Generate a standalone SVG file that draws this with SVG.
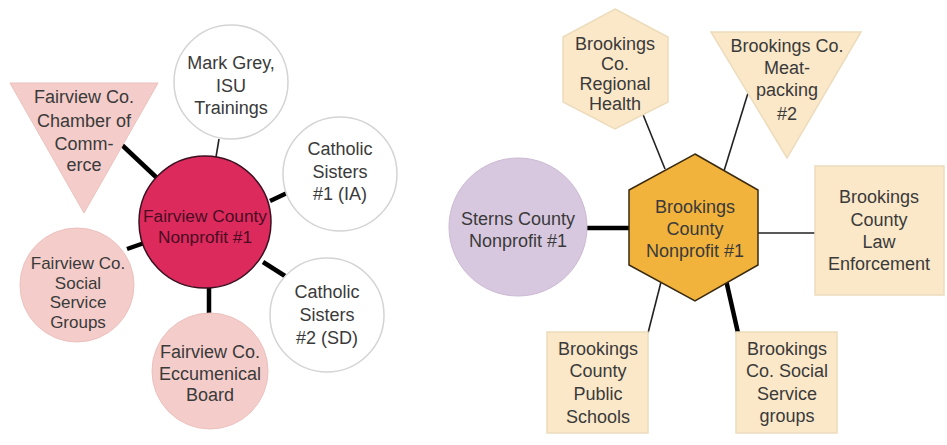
<svg xmlns="http://www.w3.org/2000/svg" width="947" height="445" viewBox="0 0 947 445">
<style>
text{font-family:"Liberation Sans",Arial,sans-serif;font-size:18px;fill:#3a3a3a;text-anchor:middle}
.thick{stroke:#000;stroke-width:4.5;fill:none}
.thin{stroke:#222;stroke-width:1.6;fill:none}
.white{fill:#fff;stroke:#d4d4d4;stroke-width:1.5}
.pink{fill:#f4cdca;stroke:#ecc0bd;stroke-width:1}
.cream{fill:#fbe8c9;stroke:#eddcbc;stroke-width:1.5}
</style>
<rect width="947" height="445" fill="#fff"/>
<g id="connectors">
<line class="thick" x1="122" y1="145" x2="157" y2="178"/>
<line class="thin" x1="219" y1="139" x2="216" y2="157"/>
<line class="thick" x1="270" y1="201" x2="287" y2="193"/>
<line class="thick" x1="263" y1="262" x2="285" y2="276"/>
<line class="thick" x1="209" y1="288" x2="209" y2="314"/>
<line class="thick" x1="127" y1="249" x2="147" y2="242"/>
<line class="thick" x1="587" y1="228" x2="630" y2="228"/>
<line class="thin" x1="642" y1="112" x2="665" y2="169"/>
<line class="thin" x1="748" y1="93" x2="724" y2="171"/>
<line class="thin" x1="758" y1="233" x2="816" y2="233"/>
<line class="thin" x1="661" y1="282" x2="648" y2="333"/>
<line class="thick" x1="726" y1="280" x2="738" y2="333"/>
</g>
<g id="fairview-center">
<circle cx="205" cy="222" r="66" fill="#dd2a5d" stroke="#3a1020" stroke-width="1.5"/>
<text x="205" y="222" style="fill:#4a0c22;font-size:17.3px">Fairview County</text>
<text x="205" y="243" style="fill:#4a0c22;font-size:17.3px">Nonprofit #1</text>
</g>
<g id="mark-grey">
<circle class="white" cx="231" cy="82" r="57"/>
<text x="231" y="69">Mark Grey,</text>
<text x="231" y="92">ISU</text>
<text x="231" y="114">Trainings</text>
</g>
<g id="catholic-1">
<circle class="white" cx="340" cy="174" r="57"/>
<text x="340" y="155">Catholic</text>
<text x="340" y="178">Sisters</text>
<text x="340" y="200">#1 (IA)</text>
</g>
<g id="catholic-2">
<circle class="white" cx="327" cy="315" r="57"/>
<text x="327" y="298">Catholic</text>
<text x="327" y="321">Sisters</text>
<text x="327" y="344">#2 (SD)</text>
</g>
<g id="eccumenical">
<circle class="pink" cx="210" cy="371" r="58"/>
<text x="210" y="358">Fairview Co.</text>
<text x="210" y="380">Eccumenical</text>
<text x="210" y="401">Board</text>
</g>
<g id="social-service">
<circle class="pink" cx="77" cy="285" r="57"/>
<text x="78" y="269" style="font-size:17px">Fairview Co.</text>
<text x="78" y="288.5" style="font-size:17px">Social</text>
<text x="78" y="308" style="font-size:17px">Service</text>
<text x="78" y="327.5" style="font-size:17px">Groups</text>
</g>
<g id="chamber">
<polygon class="pink" points="10,83 158,83 84,213"/>
<text x="84" y="103">Fairview Co.</text>
<text x="84" y="127">Chamber of</text>
<text x="84" y="150">Comm-</text>
<text x="84" y="171">erce</text>
</g>
<g id="brookings-center">
<polygon points="695,154 758,190 758,265 695,301 629,265 629,190" fill="#f2b33d" stroke="#3a2a10" stroke-width="1.5"/>
<text x="695" y="213">Brookings</text>
<text x="695" y="235">County</text>
<text x="695" y="257">Nonprofit #1</text>
</g>
<g id="sterns">
<circle cx="518" cy="227" r="69" fill="#d8c8df" stroke="#cbb9d3" stroke-width="1"/>
<text x="518" y="225">Sterns County</text>
<text x="518" y="247">Nonprofit #1</text>
</g>
<g id="regional-health">
<polygon class="cream" points="615,9 668,37 668,102 615,129 563,102 563,37"/>
<text x="615" y="50">Brookings</text>
<text x="615" y="70">Co.</text>
<text x="615" y="90">Regional</text>
<text x="615" y="110">Health</text>
</g>
<g id="meatpacking">
<polygon class="cream" points="711,32 861,32 787,158"/>
<text x="787" y="52">Brookings Co.</text>
<text x="787" y="74">Meat-</text>
<text x="787" y="96">packing</text>
<text x="787" y="120">#2</text>
</g>
<g id="law">
<rect class="cream" x="815" y="166" width="129" height="129"/>
<text x="879" y="203">Brookings</text>
<text x="879" y="226">County</text>
<text x="879" y="248">Law</text>
<text x="879" y="270">Enforcement</text>
</g>
<g id="public-schools">
<rect class="cream" x="547" y="332" width="101" height="101"/>
<text x="598" y="355">Brookings</text>
<text x="598" y="377">County</text>
<text x="598" y="400">Public</text>
<text x="598" y="423">Schools</text>
</g>
<g id="social-groups">
<rect class="cream" x="736" y="332" width="101" height="101"/>
<text x="787" y="355">Brookings</text>
<text x="787" y="377">Co. Social</text>
<text x="787" y="400">Service</text>
<text x="787" y="422">groups</text>
</g>
</svg>
